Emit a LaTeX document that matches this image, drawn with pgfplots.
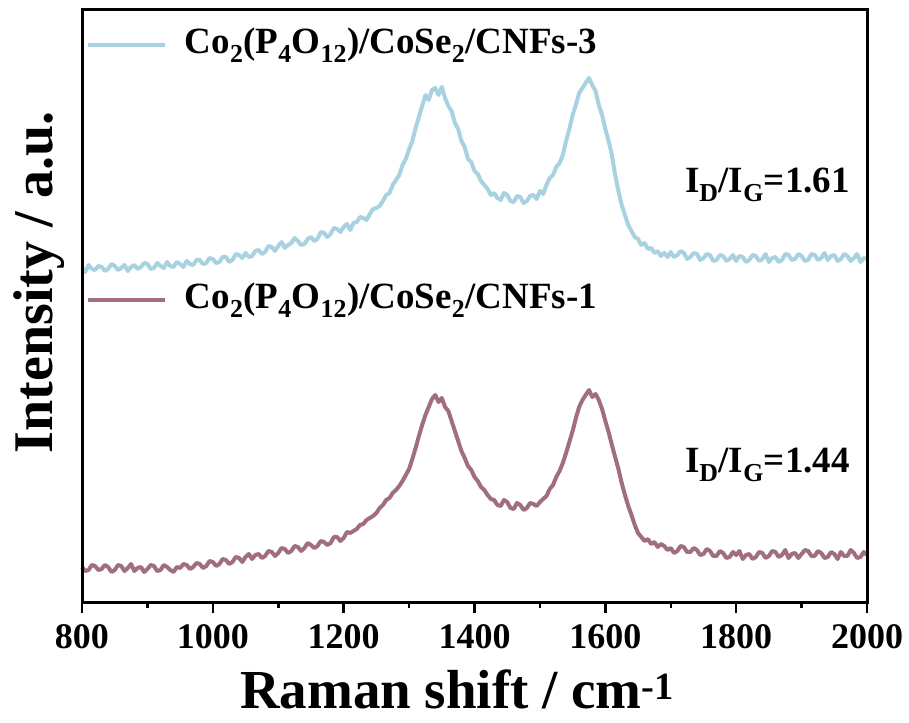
\documentclass[border=0pt]{standalone}
\usepackage{fontspec}
\setmainfont{Liberation Serif}
\usepackage{pgfplots}
\pgfplotsset{compat=1.18}
\definecolor{cblue}{RGB}{168,210,224}
\definecolor{cpink}{RGB}{160,110,126}

\begin{document}
\begin{tikzpicture}
\path[use as bounding box] (-82pt,-119pt) rectangle (827pt,603pt);
\begin{axis}[
  name=ax,
  at={(0pt,0pt)}, anchor=south west,
  scale only axis,
  width=785pt, height=593pt,
  xmin=800, xmax=2000, ymin=0, ymax=593,
  xtick={800,1000,...,2000},
  minor x tick num=1,
  ytick=\empty,
  xtick pos=lower,
  tick align=outside,
  major tick length=10pt,
  minor tick length=5pt,
  every tick/.style={line width=2.5pt, black},
  axis line style={line width=2.8pt, black},
  /pgf/number format/assume math mode=true,
  /pgf/number format/1000 sep={},
  xticklabel style={font=\fontsize{36}{36}\selectfont\bfseries, yshift=-8pt},
  xlabel={Raman shift / cm\textsuperscript{-1}},
  xlabel style={font=\fontsize{55}{55}\selectfont\bfseries, at={(axis description cs:0.478,-0.145)}, anchor=center},
  ylabel={Intensity / a.u.},
  ylabel style={font=\fontsize{56}{56}\selectfont\bfseries, at={(axis description cs:-0.054,0.541)}, anchor=center},
  clip=false,
]
\addplot[color=cblue, line width=4pt, line join=round] coordinates {
(800,335) (805,331) (810,338) (815,334) (820,333) (825,337) (830,336) (835,332) (840,334) (845,339) (850,337) (855,333) (860,335) (865,338) (870,332) (875,336) (880,338) (885,334) (890,336) (895,340)
(900,339) (905,334) (910,335) (915,340) (920,337) (925,335) (930,341) (935,337) (940,336) (945,341) (950,339) (955,336) (960,342) (965,339) (970,338) (975,343) (980,343) (985,339) (990,340) (995,345)
(1000,344) (1005,340) (1010,341) (1015,346) (1020,346) (1025,341) (1030,343) (1035,349) (1040,348) (1045,345) (1050,350) (1055,346) (1060,347) (1065,352) (1070,353) (1075,349) (1080,351) (1085,357) (1090,356) (1095,352)
(1100,357) (1105,361) (1110,355) (1115,358) (1120,360) (1125,365) (1130,362) (1135,358) (1140,359) (1145,364) (1150,366) (1155,362) (1160,364) (1165,371) (1170,370) (1175,366) (1180,369) (1185,375) (1190,374) (1195,371)
(1200,376) (1205,379) (1210,373) (1215,380) (1220,381) (1225,386) (1230,385) (1235,383) (1240,389) (1245,394) (1250,395) (1255,397) (1260,402) (1265,408) (1270,410) (1275,418) (1280,423) (1285,428) (1290,438) (1295,444)
(1300,454) (1305,462) (1310,475) (1315,486) (1320,497) (1325,508) (1330,503) (1335,513) (1340,515) (1345,508) (1350,516) (1355,505) (1360,497) (1365,492)
(1370,480) (1375,474) (1380,462) (1385,456) (1390,444) (1395,441) (1400,432) (1405,429) (1410,422) (1415,418) (1420,414) (1425,408) (1430,410) (1435,405) (1440,403) (1445,410) (1450,408) (1455,402) (1460,401) (1465,407) (1470,406) (1475,400) (1480,402) (1485,407) (1490,408) (1495,404)
(1500,412) (1505,409) (1510,418) (1515,425) (1520,428) (1525,436) (1530,440) (1535,448) (1540,462) (1545,474) (1550,488) (1555,498) (1560,510) (1565,515) (1570,520) (1575,525) (1580,518) (1585,512) (1590,498) (1595,488)
(1600,474) (1605,462) (1610,448) (1615,428) (1620,412) (1625,398) (1630,388) (1635,378) (1640,372) (1645,366) (1650,364) (1655,358) (1660,360) (1665,354) (1670,355) (1675,350) (1680,352) (1685,347) (1690,350) (1695,346)
(1700,351) (1705,346) (1710,348) (1715,352) (1720,350) (1725,344) (1730,346) (1735,350) (1740,349) (1745,343) (1750,345) (1755,349) (1760,348) (1765,342) (1770,343) (1775,348) (1780,347) (1785,342) (1790,344) (1795,348)
(1800,342) (1805,347) (1810,346) (1815,341) (1820,343) (1825,348) (1830,347) (1835,342) (1840,344) (1845,349) (1850,341) (1855,345) (1860,346) (1865,341) (1870,343) (1875,349) (1880,348) (1885,343) (1890,344) (1895,349)
(1900,347) (1905,342) (1910,343) (1915,349) (1920,348) (1925,343) (1930,345) (1935,350) (1940,343) (1945,347) (1950,348) (1955,342) (1960,344) (1965,349) (1970,347) (1975,342) (1980,345) (1985,349) (1990,341) (1995,345) (2000,344)
};
\addplot[color=cpink, line width=4pt, line join=round] coordinates {
(800,36) (805,32) (810,33) (815,38) (820,37) (825,33) (830,34) (835,38) (840,36) (845,31) (850,33) (855,38) (860,37) (865,32) (870,35) (875,39) (880,32) (885,35) (890,36) (895,31)
(900,34) (905,38) (910,37) (915,32) (920,33) (925,38) (930,36) (935,33) (940,31) (945,36) (950,35) (955,39) (960,38) (965,34) (970,36) (975,40) (980,39) (985,35) (990,37) (995,42)
(1000,41) (1005,37) (1010,39) (1015,44) (1020,43) (1025,39) (1030,41) (1035,46) (1040,45) (1045,41) (1050,46) (1055,49) (1060,44) (1065,48) (1070,49) (1075,45) (1080,47) (1085,52) (1090,51) (1095,47)
(1100,50) (1105,55) (1110,54) (1115,50) (1120,52) (1125,57) (1130,56) (1135,52) (1140,55) (1145,60) (1150,58) (1155,55) (1160,57) (1165,62) (1170,61) (1175,58) (1180,60) (1185,66) (1190,66) (1195,62)
(1200,65) (1205,71) (1210,70) (1215,72) (1220,74) (1225,78) (1230,79) (1235,83) (1240,85) (1245,87) (1250,90) (1255,95) (1260,98) (1265,103) (1270,105) (1275,110) (1280,113) (1285,117) (1290,122) (1295,128)
(1300,134) (1305,144) (1310,155) (1315,167) (1320,178) (1325,188) (1330,196) (1335,204) (1340,208) (1345,201) (1350,205) (1355,196) (1360,192) (1365,182)
(1370,172) (1375,162) (1380,152) (1385,145) (1390,137) (1395,133) (1400,126) (1405,122) (1410,116) (1415,113) (1420,108) (1425,104) (1430,103) (1435,98) (1440,97) (1445,103) (1450,101) (1455,95) (1460,94) (1465,100) (1470,98) (1475,93) (1480,95) (1485,100) (1490,99) (1495,97)
(1500,101) (1505,104) (1510,107) (1515,114) (1520,118) (1525,126) (1530,132) (1535,140) (1540,150) (1545,161) (1550,172) (1555,185) (1560,196) (1565,203) (1570,208) (1575,213) (1580,206) (1585,209) (1590,203) (1595,194)
(1600,182) (1605,171) (1610,158) (1615,146) (1620,134) (1625,120) (1630,108) (1635,97) (1640,88) (1645,78) (1650,70) (1655,66) (1660,62) (1665,64) (1670,59) (1675,61) (1680,56) (1685,59) (1690,57) (1695,53)
(1700,55) (1705,50) (1710,52) (1715,57) (1720,56) (1725,51) (1730,51) (1735,55) (1740,53) (1745,48) (1750,49) (1755,54) (1760,52) (1765,47) (1770,47) (1775,52) (1780,50) (1785,45) (1790,46) (1795,51)
(1800,48) (1805,52) (1810,44) (1815,48) (1820,49) (1825,44) (1830,46) (1835,51) (1840,50) (1845,45) (1850,47) (1855,52) (1860,51) (1865,46) (1870,48) (1875,53) (1880,45) (1885,49) (1890,50) (1895,45)
(1900,49) (1905,53) (1910,52) (1915,47) (1920,47) (1925,52) (1930,50) (1935,45) (1940,46) (1945,51) (1950,49) (1955,44) (1960,51) (1965,47) (1970,47) (1975,53) (1980,50) (1985,45) (1990,46) (1995,51) (2000,48)
};

\draw[color=cblue, line width=4pt] (axis cs:809,558) -- (axis cs:927,558);
\node[anchor=west, font=\fontsize{37}{37}\selectfont\bfseries, inner sep=0pt] at (axis cs:957,558) {Co\textsubscript{2}(P\textsubscript{4}O\textsubscript{12})/CoSe\textsubscript{2}/CNFs-3};
\draw[color=cpink, line width=4pt] (axis cs:809,303) -- (axis cs:927,303);
\node[anchor=west, font=\fontsize{37}{37}\selectfont\bfseries, inner sep=0pt] at (axis cs:957,303) {Co\textsubscript{2}(P\textsubscript{4}O\textsubscript{12})/CoSe\textsubscript{2}/CNFs-1};

\node[anchor=east, font=\fontsize{37}{37}\selectfont\bfseries, inner sep=0pt] at (axis cs:1974,418) {I\textsubscript{D}/I\textsubscript{G}=1.61};
\node[anchor=east, font=\fontsize{37}{37}\selectfont\bfseries, inner sep=0pt] at (axis cs:1974,138) {I\textsubscript{D}/I\textsubscript{G}=1.44};
\end{axis}
\draw[line width=3pt, black] (ax.south west) rectangle (ax.north east);
\end{tikzpicture}
\end{document}
